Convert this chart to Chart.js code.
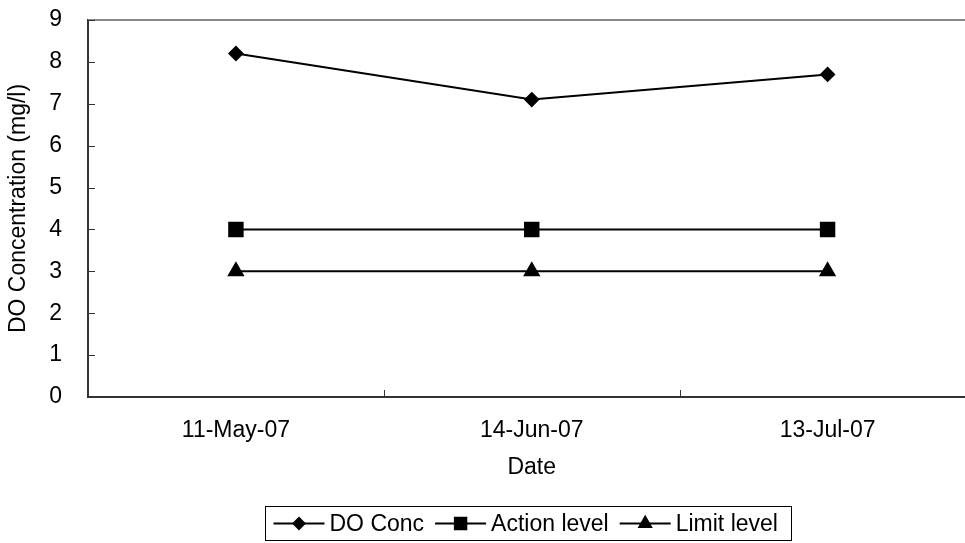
<!DOCTYPE html>
<html>
<head>
<meta charset="utf-8">
<script src="https://cdn.jsdelivr.net/npm/chart.js@4.4.0/dist/chart.umd.min.js"></script>
<style>
  html, body { margin: 0; padding: 0; overflow: hidden; background: #fff; }
  canvas { display: block; }
</style>
</head>
<body>
<canvas id="doChart" width="987" height="543"></canvas>
<script>
const dates = ['11-May-07', '14-Jun-07', '13-Jul-07'];
const doConc = [8.2, 7.1, 7.7];
const actionLevel = [4, 4, 4];
const limitLevel = [3, 3, 3];
const yTicks = [0, 1, 2, 3, 4, 5, 6, 7, 8, 9];

const FONT = '"Liberation Sans", Arial, sans-serif';
const FS = 23;

// inward tick marks + grey top border
const frame = {
  id: 'frame',
  afterDatasetsDraw(chart) {
    const { ctx, chartArea: a, scales: { x, y } } = chart;
    ctx.save();
    ctx.strokeStyle = '#888';
    ctx.lineWidth = 2;
    ctx.beginPath();
    ctx.moveTo(a.left, a.top);
    ctx.lineTo(a.right + 2, a.top);
    ctx.stroke();

    ctx.strokeStyle = '#333';
    ctx.lineWidth = 1;
    ctx.beginPath();
    yTicks.forEach(v => {
      const py = Math.round(y.getPixelForValue(v)) + 0.5;
      ctx.moveTo(a.left, py);
      ctx.lineTo(a.left + 7, py);
    });
    const slot = (a.right - a.left) / dates.length;
    for (let i = 1; i < dates.length; i++) {
      const px = Math.round(a.left + i * slot) + 0.5;
      ctx.moveTo(px, a.bottom);
      ctx.lineTo(px, a.bottom - 7);
    }
    ctx.stroke();
    ctx.restore();
  }
};

// boxed legend below the axis title
const boxLegend = {
  id: 'boxLegend',
  afterDraw(chart) {
    const { ctx, chartArea: a } = chart;
    const sets = chart.data.datasets;
    ctx.save();
    ctx.font = FS + 'px ' + FONT;
    const sample = 51, gapText = 5, gapItem = 11, padL = 8, padR = 14;
    const widths = sets.map(d => ctx.measureText(d.label).width);
    let total = padL + padR;
    widths.forEach((w, i) => { total += sample + gapText + w + (i ? gapItem : 0); });
    const left = 265.5;
    const top = 506.5, h = 34;
    ctx.strokeStyle = '#000';
    ctx.lineWidth = 1;
    ctx.strokeRect(left, top, Math.round(total), h);
    const my = top + h / 2;
    let xx = left + padL;
    sets.forEach((d, i) => {
      if (i) xx += gapItem;
      ctx.strokeStyle = '#000';
      ctx.lineWidth = 2;
      ctx.beginPath();
      ctx.moveTo(xx, my);
      ctx.lineTo(xx + sample, my);
      ctx.stroke();
      Chart.helpers.drawPoint(ctx, {
        pointStyle: d.pointStyle, radius: d.pointRadius * 0.85, borderWidth: 1
      }, xx + sample / 2, my);
      ctx.fillStyle = '#000';
      ctx.textBaseline = 'middle';
      ctx.textAlign = 'left';
      ctx.fillText(d.label, xx + sample + gapText, my + 1);
      xx += sample + gapText + widths[i];
    });
    ctx.restore();
  }
};

Chart.defaults.font.family = FONT;
Chart.defaults.font.size = FS;
Chart.defaults.color = '#000';

const line = (label, data, pointStyle, r) => ({
  label, data, pointStyle,
  borderColor: '#000',
  backgroundColor: '#000',
  pointBackgroundColor: '#000',
  pointBorderColor: '#000',
  borderWidth: 2,
  pointRadius: r,
  pointHoverRadius: r,
  tension: 0
});

new Chart(document.getElementById('doChart'), {
  type: 'line',
  data: {
    labels: dates,
    datasets: [
      line('DO Conc', doConc, 'rectRot', 6.5),
      line('Action level', actionLevel, 'rect', 9.5),
      line('Limit level', limitLevel, 'triangle', 8)
    ]
  },
  options: {
    responsive: false,
    animation: false,
    layout: { padding: { top: 20, right: 0, bottom: 56, left: 0 } },
    plugins: { legend: { display: false }, tooltip: { enabled: false } },
    scales: {
      x: {
        offset: true,
        grid: { display: true, drawOnChartArea: false, drawTicks: false },
        border: { color: '#333', width: 2 },
        ticks: { padding: 20, maxRotation: 0 },
        title: { display: true, text: 'Date', padding: { top: 6, bottom: 6 } },
        afterFit(s) { s.height = 90; s.paddingLeft = 0; s.paddingRight = 0; }
      },
      y: {
        min: 0, max: 9,
        grid: { display: true, drawOnChartArea: false, drawTicks: false },
        border: { color: '#333', width: 2 },
        ticks: { stepSize: 1, padding: 26 },
        title: { display: true, text: 'DO Concentration (mg/l)', padding: { top: 5, bottom: 5 } },
        afterFit(s) { s.width = 88; s.paddingTop = 0; s.paddingBottom = 0; }
      }
    }
  },
  plugins: [frame, boxLegend]
});
</script>
</body>
</html>
